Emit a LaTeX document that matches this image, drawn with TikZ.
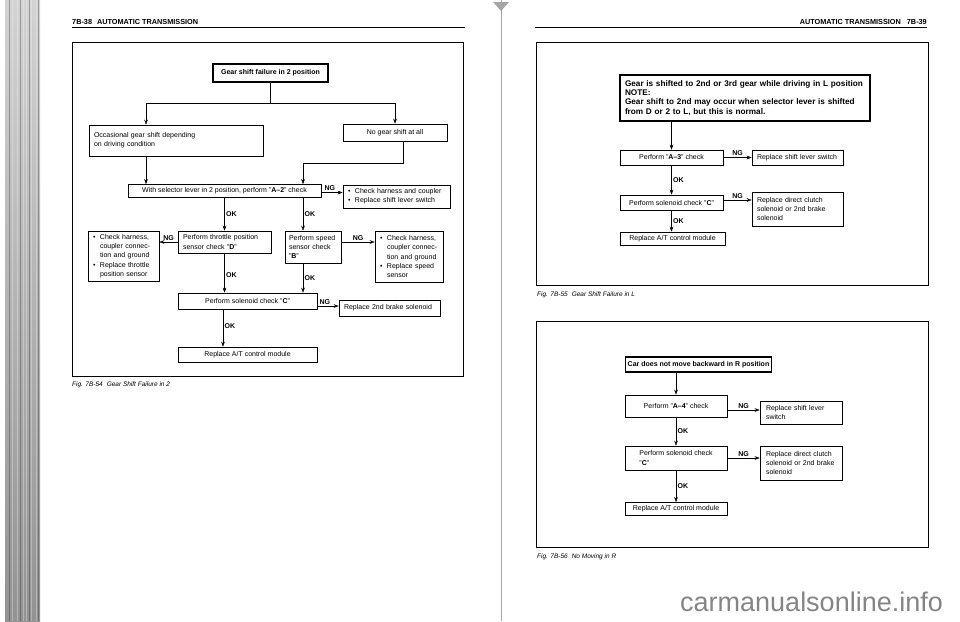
\documentclass[tikz,border=0pt]{standalone}
\usepackage{fontspec}
\setmainfont{Liberation Sans}
\usetikzlibrary{positioning,arrows.meta}

\newcommand{\boxfont}{\fontsize{7pt}{9.2pt}\selectfont}
\newcommand{\bul}{\makebox[7pt][l]{\textbullet}}
\newcommand{\bulin}{\hspace*{7pt}}

\begin{document}
\begin{tikzpicture}[
  x=1pt, y=-1pt,
  font=\boxfont,
  box/.style={draw, line width=0.7pt, align=center, inner sep=2pt},
  lbox/.style={draw, line width=0.7pt, align=left, inner xsep=5pt, inner ysep=2pt, text width=#1},
  head/.style={line width=1.4pt, font=\boxfont\bfseries},
  lbl/.style={font=\boxfont\bfseries, inner sep=1.5pt},
  frame/.style={draw, line width=0.8pt},
  hdr/.style={font=\fontsize{7.3pt}{9pt}\selectfont\bfseries, inner sep=0pt},
  figcap/.style={anchor=base west, font=\fontsize{6.5pt}{8pt}\selectfont\itshape, inner sep=0pt},
  >={Stealth[length=5pt,width=3.6pt]}
]
\useasboundingbox (0,0) rectangle (960,621);
\fill[white] (0,0) rectangle (960,621);

\shade[top color=gray!35, bottom color=gray!85] (5,0) rectangle (40,621);
\foreach \xg in {12,17,23,26,31,36}
  \draw[white, line width=0.7pt, opacity=0.3] (\xg,0) -- (\xg,621);
\foreach \xg in {9,20,29,38}
  \draw[black, line width=0.5pt, opacity=0.25] (\xg,0) -- (\xg,621);
\draw[gray!70, line width=0.6pt] (501,0) -- (501,621);
\fill[gray!70] (493,2) -- (509,2) -- (501,11) -- cycle;

\node[hdr, anchor=base west] (hdrL) at (72,24) {7B-38\hspace{5pt}AUTOMATIC TRANSMISSION};
\draw[line width=1.5pt] (72,27.5) -- (465,27.5);
\node[hdr, anchor=base east] (hdrR) at (927,24) {AUTOMATIC TRANSMISSION\hspace{6pt}7B-39};
\draw[line width=1.5pt] (535,27.5) -- (927,27.5);

\draw[frame] (72,42) rectangle (463,376);
\draw[frame] (536,42) rectangle (928,285);
\draw[frame] (536,321) rectangle (928,547);
\node[figcap] (cap54) at (72,386) {Fig. 7B-54\hspace{4pt}Gear Shift Failure in 2};
\node[figcap] (cap55) at (537,296) {Fig. 7B-55\hspace{4pt}Gear Shift Failure in L};
\node[figcap] (cap56) at (537,558) {Fig. 7B-56\hspace{4pt}No Moving in R};

\node[box, head, minimum width=115pt, minimum height=18pt] (fail2) at (270.5,73) {Gear shift failure in 2 position};
\node[lbox=164pt, minimum height=31pt] (occas) at (176,140.5) {Occasional gear shift depending\\on driving condition};
\node[box, minimum width=104pt, minimum height=17pt] (nogear) at (395,132.5) {No gear shift at all};
\node[box, minimum width=193pt, minimum height=13pt] (chkA2) at (224.5,191) {With selector lever in 2 position, perform ''\textbf{A--2}'' check};
\node[lbox=97pt, minimum height=23pt] (harn1) at (396.5,196.5) {\bul Check harness and coupler\\\bul Replace shift lever switch};
\node[lbox=83pt, minimum height=22pt] (tps) at (224.5,242) {Perform throttle position\\sensor check ''\textbf{D}''};
\node[lbox=61pt, minimum height=50pt] (harn2) at (123.5,256) {\bul Check harness,\\\bulin coupler connec-\\\bulin tion and ground\\\bul Replace throttle\\\bulin position sensor};
\node[lbox=48pt, inner xsep=4pt, minimum height=32pt] (vss) at (313,247) {Perform speed\\sensor check\\''\textbf{B}''};
\node[lbox=58pt, minimum height=51pt] (harn3) at (409,256.5) {\bul Check harness,\\\bulin coupler connec-\\\bulin tion and ground\\\bul Replace speed\\\bulin sensor};
\node[box, minimum width=139pt, minimum height=16pt] (solC) at (247.5,301) {Perform solenoid check ''\textbf{C}''};
\node[lbox=91pt, minimum height=16pt] (brake2) at (389.5,308) {Replace 2nd brake solenoid};
\node[box, minimum width=139pt, minimum height=15pt] (tcm) at (247.5,354.5) {Replace A/T control module};

\draw (fail2.south) -- ++(0,20) coordinate (split);
\draw[->] (split) -| ([xshift=-30pt]occas.north);
\draw[->] (split) -| (nogear.north);
\draw[->] ([xshift=-30pt]occas.south) -- ([xshift=-30pt]occas.south |- chkA2.north);
\draw[->] ([xshift=8pt]nogear.south) -- ++(0,22) -| ([xshift=78.5pt]chkA2.north);
\draw[->] ([yshift=-1.5pt]chkA2.east) -- ([yshift=-1.5pt]chkA2.east -| harn1.west) node[lbl, above, pos=0.4] {NG};
\draw[->] (chkA2.south) -- (tps.north) node[lbl, right, midway] {OK};
\draw[->] ([xshift=78.5pt]chkA2.south) -- ([xshift=-10pt]vss.north) node[lbl, right, midway] {OK};
\draw[->] (tps.west) -- (tps.west -| harn2.east) node[lbl, above, midway] {NG};
\draw[->] ([yshift=5pt]vss.east) -- ([yshift=5pt]vss.east -| harn3.west) node[lbl, above, midway] {NG};
\draw[->] (tps.south) -- (tps.south |- solC.north) node[lbl, right, pos=0.55] {OK};
\draw[->] ([xshift=-10pt]vss.south) -- ([xshift=-10pt]vss.south |- solC.north) node[lbl, right, midway] {OK};
\draw[->] ([yshift=-5pt]solC.east) -- ([yshift=-5pt]solC.east -| brake2.west) node[lbl, above, pos=0.35] {NG};
\draw[->] ([xshift=-24.5pt]solC.south) -- ([xshift=-24.5pt]solC.south |- tcm.north) node[lbl, right, pos=0.45] {OK};

\node[lbox=240pt, head, font=\fontsize{8.2pt}{9.3pt}\selectfont\bfseries, minimum height=46pt] (gearL) at (745,98) {Gear is shifted to 2nd or 3rd gear while driving in L position\\NOTE:\\Gear shift to 2nd may occur when selector lever is shifted\\from D or 2 to L, but this is normal.};
\node[box, minimum width=103pt, minimum height=15pt] (chkA3) at (671.5,157.5) {Perform ''\textbf{A--3}'' check};
\node[lbox=81pt, minimum height=15pt] (slsL) at (797.5,157.5) {Replace shift lever switch};
\node[box, minimum width=103pt, minimum height=15pt] (solL) at (671.5,202.5) {Perform solenoid check ''\textbf{C}''};
\node[lbox=81pt, minimum height=34pt] (dcsL) at (797.5,209) {Replace direct clutch\\solenoid or 2nd brake\\solenoid};
\node[box, minimum width=105pt, minimum height=13pt] (tcmL) at (672.5,238.5) {Replace A/T control module};

\draw[->] (chkA3.north |- gearL.south) -- (chkA3.north);
\draw[->] (chkA3.east) -- (slsL.west) node[lbl, above, midway] {NG};
\draw[->] (chkA3.south) -- (solL.north) node[lbl, right, midway] {OK};
\draw[->] ([yshift=2.5pt]solL.east) -- ([yshift=2.5pt]solL.east -| dcsL.west) node[lbl, above, midway] {NG};
\draw[->] (solL.south) -- (solL.south |- tcmL.north) node[lbl, right, midway] {OK};

\node[box, head, minimum width=145pt, minimum height=15pt] (carR) at (698.5,364.5) {Car does not move backward in R position};
\node[box, minimum width=102pt, minimum height=22pt] (chkA4) at (676,406) {Perform ''\textbf{A--4}'' check};
\node[lbox=70pt, inner xsep=6pt, minimum height=23pt] (slsR) at (801,412.5) {Replace shift lever\\switch};
\node[box, align=left, minimum width=102pt, minimum height=24pt] (solR) at (676,458) {Perform solenoid check\\''\textbf{C}''};
\node[lbox=70pt, inner xsep=6pt, minimum height=34pt] (dcsR) at (801,463) {Replace direct clutch\\solenoid or 2nd brake\\solenoid};
\node[box, minimum width=102pt, minimum height=13pt] (tcmR) at (676,509) {Replace A/T control module};

\draw[->] (chkA4.north |- carR.south) -- (chkA4.north);
\draw[->] ([yshift=-4pt]chkA4.east) -- ([yshift=-4pt]chkA4.east -| slsR.west) node[lbl, above, midway] {NG};
\draw[->] (chkA4.south) -- (solR.north) node[lbl, right, midway] {OK};
\draw[->] (solR.east) -- (solR.east -| dcsR.west) node[lbl, above, midway] {NG};
\draw[->] (solR.south) -- (solR.south |- tcmR.north) node[lbl, right, midway] {OK};

\node[anchor=base west, text=black!48, font=\fontsize{27pt}{30pt}\selectfont, inner sep=0pt] (wmark) at (680,611) {carmanualsonline.info};
\end{tikzpicture}
\end{document}
